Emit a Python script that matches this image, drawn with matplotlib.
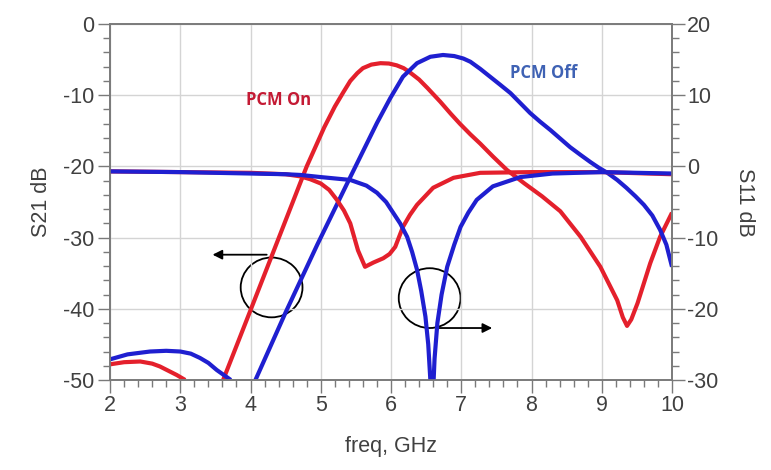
import numpy as np
import matplotlib.pyplot as plt
from matplotlib.patches import Ellipse

plt.rcParams['font.family'] = ['Liberation Sans', 'DejaVu Sans']
plt.rcParams['axes.unicode_minus'] = False

# S21 (left axis, dB) - PCM On (red) and PCM Off (blue); nan splits the clipped gap
s21_on_f = [2.0, 2.2, 2.43, 2.6, 2.71, 2.85, 2.95, 3.07, np.nan,
            3.61, 4.0, 4.4, 4.8, 5.05, 5.2, 5.32, 5.42, 5.52, 5.6, 5.72, 5.85, 5.97,
            6.08, 6.18, 6.27, 6.4, 6.52, 6.7, 6.85, 6.98, 7.13, 7.27, 7.45, 7.65, 7.9,
            8.15, 8.41, 8.7, 8.98, 9.22, 9.3, 9.36, 9.42, 9.51, 9.69, 9.83, 10.0]
s21_on = [-47.8, -47.5, -47.4, -47.7, -48.1, -48.8, -49.3, -50.0, np.nan,
          -50.0, -40.2, -30.1, -20.0, -14.5, -11.6, -9.6, -8.0, -6.9, -6.2, -5.7, -5.5, -5.55,
          -5.8, -6.2, -6.8, -7.8, -9.0, -10.9, -12.6, -14.0, -15.5, -16.8, -18.6, -20.5, -22.4,
          -24.2, -26.3, -29.9, -34.1, -38.8, -41.2, -42.4, -41.5, -39.2, -33.6, -29.9, -26.5]

s21_off_f = [2.0, 2.25, 2.57, 2.8, 3.0, 3.15, 3.28, 3.4, 3.52, 3.62, 3.72, np.nan,
             4.07, 4.5, 4.95, 5.42, 5.8, 5.99, 6.17, 6.37, 6.56, 6.74, 6.9, 7.03, 7.13,
             7.27, 7.41, 7.55, 7.7, 7.84, 7.98, 8.12, 8.27, 8.41, 8.55, 8.7, 8.84, 8.96,
             9.08, 9.22, 9.35, 9.48, 9.6, 9.72, 9.83, 9.92, 10.0]
s21_off = [-47.1, -46.4, -46.0, -45.9, -46.0, -46.3, -46.9, -47.6, -48.6, -49.3, -50.0, np.nan,
           -50.0, -40.5, -31.0, -21.5, -13.9, -10.4, -7.4, -5.5, -4.6, -4.35, -4.5, -4.85, -5.3,
           -6.3, -7.4, -8.5, -9.7, -11.1, -12.5, -13.7, -14.9, -16.1, -17.3, -18.4, -19.4, -20.2,
           -20.9, -21.9, -23.0, -24.2, -25.4, -26.9, -28.9, -31.0, -34.1]

# S11 (right axis, dB)
s11_on_f = [2.0, 3.0, 4.0, 4.5, 4.71, 4.85, 5.0, 5.12, 5.23, 5.33, 5.42, 5.53, 5.63,
            5.75, 5.89, 5.98, 6.06, 6.17, 6.27, 6.37, 6.6, 6.89, 7.27, 8.0, 9.0, 10.0]
s11_on = [-0.7, -0.8, -0.9, -1.1, -1.4, -1.8, -2.4, -3.3, -4.7, -6.2, -8.0, -11.8, -14.1,
          -13.5, -12.9, -12.3, -11.3, -8.5, -6.8, -5.4, -3.0, -1.6, -0.9, -0.8, -0.8, -1.1]

s11_off_f = [2.0, 3.0, 4.0, 4.5, 4.71, 5.0, 5.42, 5.65, 5.8, 5.93, 6.03, 6.13, 6.23, 6.3,
             6.37, 6.43, 6.49, 6.53, 6.56, 6.58, 6.62, 6.66, 6.72, 6.8, 6.9, 6.99, 7.1,
             7.22, 7.45, 7.84, 8.3, 9.0, 10.0]
s11_off = [-0.7, -0.8, -1.0, -1.1, -1.2, -1.5, -1.9, -2.7, -3.7, -5.0, -6.5, -8.0, -9.9, -12.0,
           -14.5, -17.5, -21.1, -25.0, -30.0, -36.0, -27.0, -22.0, -18.0, -14.1, -11.0, -8.5, -6.5,
           -4.7, -2.8, -1.5, -1.0, -0.8, -1.0]

red = '#e4202c'
blue = '#1f1fd0'
gray = '#7a7a7a'
txt = '#404040'

fig = plt.figure(figsize=(7.71, 4.70), dpi=100)
ax = fig.add_axes([0.1427, 0.1915, 0.7289, 0.7574])
ax2 = ax.twinx()

ax.plot(s21_on_f, s21_on, color=red, lw=3.0, solid_capstyle='butt')
ax.plot(s21_off_f, s21_off, color=blue, lw=3.0, solid_capstyle='butt')
ax2.plot(s11_on_f, s11_on, color=red, lw=3.0)
ax2.plot(s11_off_f, s11_off, color=blue, lw=3.0)

ax.set_xlim(2, 10)
ax.set_ylim(-50, 0)
ax2.set_ylim(-30, 20)
ax.set_xticks(np.arange(2, 11, 1))
ax.set_xticks(np.arange(2, 10.01, 0.2), minor=True)
ax.set_yticks(np.arange(-50, 1, 10))
ax.set_yticks(np.arange(-50, 0.1, 2), minor=True)
ax2.set_yticks(np.arange(-30, 21, 10))
ax2.set_yticks(np.arange(-30, 20.1, 2), minor=True)

ax.grid(True, which='major', color='#d4d4d4', lw=1.0)
for a in (ax, ax2):
    for s in a.spines.values():
        s.set_color(gray)
        s.set_linewidth(1.2)
    a.tick_params(which='major', length=9, width=1.0, color=gray, labelsize=15.5,
                  labelcolor=txt, pad=2)
    a.tick_params(which='minor', length=5, width=1.0, color=gray)

ax.set_xlabel('freq, GHz', fontsize=15.5, color=txt, labelpad=14)
ax.set_ylabel('S21 dB', fontsize=15.5, color=txt, labelpad=8)
ax2.set_ylabel('S11 dB', fontsize=15.5, color=txt, rotation=270, labelpad=26)

# annotations
ax.text(4.4, -10.7, 'PCM On', color='#c41a34', fontsize=12, fontweight='bold',
        family='Open Sans', ha='center', va='center')
ax.text(8.17, -6.9, 'PCM Off', color='#3f62b4', fontsize=12, fontweight='bold',
        family='Open Sans', ha='center', va='center')
ax.add_patch(Ellipse((4.3, -37.0), 0.88, 8.4, fill=False, ec='black', lw=1.3))
ax.add_patch(Ellipse((6.55, -38.5), 0.88, 8.4, fill=False, ec='black', lw=1.3))
ax.annotate('', xy=(3.42, -32.4), xytext=(4.27, -32.4),
            arrowprops=dict(arrowstyle='-|>', color='black', lw=1.3, mutation_scale=14))
ax.annotate('', xy=(7.48, -42.7), xytext=(6.65, -42.7),
            arrowprops=dict(arrowstyle='-|>', color='black', lw=1.3, mutation_scale=14))

fig.savefig('out.png', dpi=100)
